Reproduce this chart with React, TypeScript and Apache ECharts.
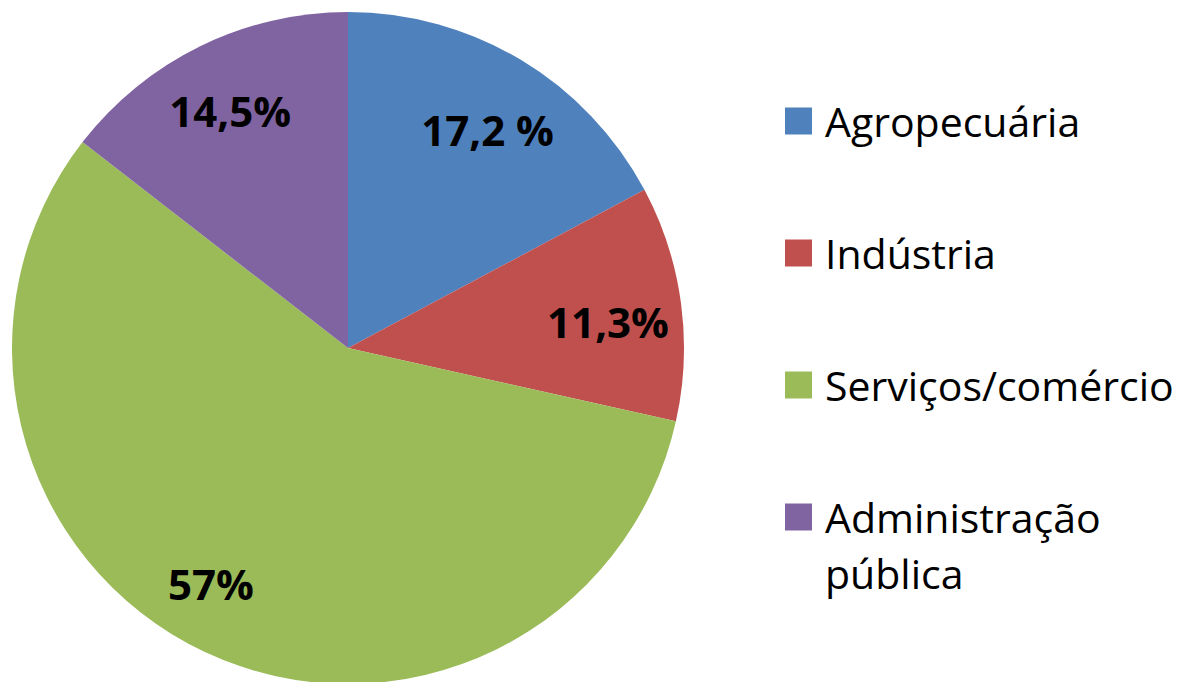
import React, { useEffect, useRef } from "react";
import * as echarts from "echarts";

const categories = ["Agropecuária", "Indústria", "Serviços/comércio", "Administração pública"];
const values = [17.2, 11.3, 57, 14.5];
const valueLabels = ["17,2 %", "11,3%", "57%", "14,5%"];
const colors = ["#4F81BD", "#C0504D", "#9BBB59", "#8064A2"];

export default function App() {
  const ref = useRef<HTMLDivElement>(null);
  useEffect(() => {
    const chart = echarts.init(ref.current!, null, { renderer: "svg" });
    const total = values.reduce((a, b) => a + b, 0);
    const cx = 348, cy = 348, R = 336;
    const nudges = [[3, 9], [-3, 9], [-24, -5], [-1, 1]];
    let acc = 0;
    const labelPos = values.map((v, i) => {
      const mid = ((acc + v / 2) / total) * 2 * Math.PI;
      acc += v;
      const r = R * 0.79;
      return [cx + r * Math.sin(mid) + nudges[i][0], cy - r * Math.cos(mid) + nudges[i][1]];
    });
    chart.setOption({
      animation: false,
      backgroundColor: "#ffffff",
      color: colors,
      legend: {
        orient: "vertical",
        left: 785,
        top: 93,
        padding: 0,
        itemWidth: 27,
        itemHeight: 27,
        itemGap: 76,
        icon: "rect",
        selectedMode: false,
        data: categories,
        formatter: (name: string) => (name === "Administração pública" ? "Administração" : name),
        textStyle: {
          fontFamily: "Open Sans",
          fontSize: 41,
          color: "#000",
          lineHeight: 56,
          padding: [0, 0, 0, 8],
        },
      },
      graphic: [
        {
          type: "text",
          left: 825,
          top: 545,
          style: {
            text: "pública",
            font: '41px "Open Sans"',
            fill: "#000",
            lineHeight: 56,
          },
        },
      ],
      series: [
        {
          type: "pie",
          center: [cx, cy],
          radius: [0, R],
          startAngle: 90,
          clockwise: true,
          avoidLabelOverlap: false,
          data: categories.map((name, i) => ({ name, value: values[i] })),
          itemStyle: { borderWidth: 0 },
          label: {
            show: true,
            position: "inside",
            formatter: (p: any) => valueLabels[p.dataIndex],
            fontFamily: "Open Sans",
            fontWeight: "bold",
            fontSize: 42,
            color: "#000",
          },
          labelLine: { show: false },
          labelLayout: (p: any) => ({
            x: labelPos[p.dataIndex][0],
            y: labelPos[p.dataIndex][1],
            align: "center",
            verticalAlign: "middle",
          }),
          emphasis: { disabled: true },
        },
      ],
    });
    return () => chart.dispose();
  }, []);
  return (
    <div
      ref={ref}
      style={{ position: "absolute", left: 0, top: 0, width: 1186, height: 682, background: "#fff" }}
    />
  );
}
